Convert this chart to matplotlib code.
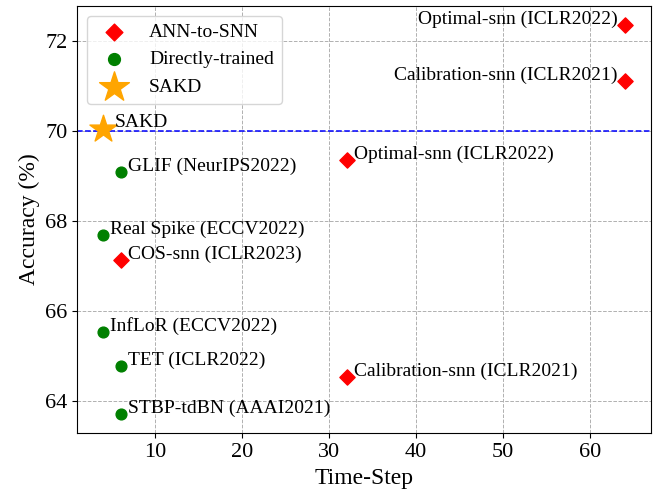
import matplotlib
matplotlib.use("Agg")
import matplotlib.pyplot as plt

plt.rcParams['font.family'] = ['Liberation Serif', 'DejaVu Serif']

# ANN-to-SNN methods
ann_t = [64, 64, 32, 6, 32]
ann_acc = [72.35, 71.12, 69.37, 67.13, 64.54]
ann_names = ["Optimal-snn (ICLR2022)", "Calibration-snn (ICLR2021)",
             "Optimal-snn (ICLR2022)", "COS-snn (ICLR2023)",
             "Calibration-snn (ICLR2021)"]

# directly-trained methods
dt_t = [6, 4, 4, 6, 6]
dt_acc = [69.09, 67.69, 65.54, 64.79, 63.72]
dt_names = ["GLIF (NeurIPS2022)", "Real Spike (ECCV2022)", "InfLoR (ECCV2022)",
            "TET (ICLR2022)", "STBP-tdBN (AAAI2021)"]

# ours
sakd_t = [4]
sakd_acc = [70.04]

fig, ax = plt.subplots(figsize=(6.6, 4.98), dpi=100)

ax.scatter(ann_t, ann_acc, marker='D', color='red', s=60, label='ANN-to-SNN', zorder=3)
ax.scatter(dt_t, dt_acc, marker='o', color='green', s=60, label='Directly-trained', zorder=3)
ax.scatter(sakd_t, sakd_acc, marker='*', color='orange', s=420, label='SAKD', zorder=3)

ax.axhline(70, color='blue', linestyle='--', linewidth=1.1)

for t, a, n in zip(ann_t, ann_acc, ann_names):
    if t == 64:
        ax.annotate(n, (t, a), xytext=(-5, 4), textcoords='offset points',
                    ha='right', va='center', fontsize=14)
    else:
        ax.annotate(n, (t, a), xytext=(5, 4), textcoords='offset points',
                    ha='left', va='center', fontsize=14)
for t, a, n in zip(dt_t, dt_acc, dt_names):
    ax.annotate(n, (t, a), xytext=(5, 4), textcoords='offset points',
                ha='left', va='center', fontsize=14)
ax.annotate("SAKD", (sakd_t[0], sakd_acc[0]), xytext=(8, 5), textcoords='offset points',
            ha='left', va='center', fontsize=14)

ax.grid(True, linestyle='--', color='#b0b0b0', linewidth=0.7)
ax.set_axisbelow(True)
ax.set_xlabel("Time-Step", fontsize=17)
ax.set_ylabel("Accuracy (%)", fontsize=17)
ax.tick_params(labelsize=16)
ax.legend(loc='upper left', fontsize=14, markerscale=1.1)

plt.subplots_adjust(left=0.117, right=0.986, top=0.988, bottom=0.13)
plt.savefig("out.png")
